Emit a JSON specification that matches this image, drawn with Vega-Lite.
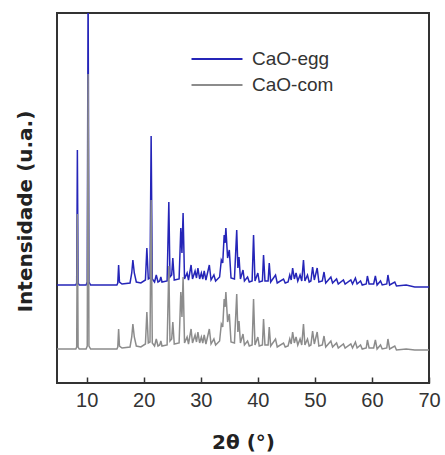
{
  "$schema": "https://vega.github.io/schema/vega-lite/v6.json",
  "width": 372,
  "height": 370,
  "autosize": "none",
  "padding": {"left": 57, "top": 13, "right": 16, "bottom": 72},
  "background": "white",
  "config": {
    "view": {"stroke": "#333333", "strokeWidth": 2},
    "font": "Liberation Sans"
  },
  "data": {"values": [
{"s":"CaO-egg","t":4.8,"i":98},{"s":"CaO-egg","t":8.1,"i":98},{"s":"CaO-egg","t":8.25,"i":100},{"s":"CaO-egg","t":8.37,"i":233},{"s":"CaO-egg","t":8.5,"i":100},{"s":"CaO-egg","t":8.7,"i":98},{"s":"CaO-egg","t":9.9,"i":98},{"s":"CaO-egg","t":10.1,"i":101},{"s":"CaO-egg","t":10.25,"i":400},{"s":"CaO-egg","t":10.4,"i":101},{"s":"CaO-egg","t":10.7,"i":98},{"s":"CaO-egg","t":15.3,"i":98},{"s":"CaO-egg","t":15.45,"i":100},{"s":"CaO-egg","t":15.6,"i":118},{"s":"CaO-egg","t":15.75,"i":101},{"s":"CaO-egg","t":16.2,"i":99},{"s":"CaO-egg","t":17.6,"i":100},{"s":"CaO-egg","t":17.9,"i":110},{"s":"CaO-egg","t":18.1,"i":123},{"s":"CaO-egg","t":18.35,"i":110},{"s":"CaO-egg","t":18.7,"i":101},{"s":"CaO-egg","t":19.5,"i":100},{"s":"CaO-egg","t":20.3,"i":103},{"s":"CaO-egg","t":20.55,"i":135},{"s":"CaO-egg","t":20.8,"i":104},{"s":"CaO-egg","t":21.1,"i":105},{"s":"CaO-egg","t":21.3,"i":247},{"s":"CaO-egg","t":21.5,"i":104},{"s":"CaO-egg","t":21.9,"i":101},{"s":"CaO-egg","t":22.2,"i":108},{"s":"CaO-egg","t":22.5,"i":101},{"s":"CaO-egg","t":22.8,"i":102},{"s":"CaO-egg","t":23.0,"i":106},{"s":"CaO-egg","t":23.2,"i":101},{"s":"CaO-egg","t":24.1,"i":102},{"s":"CaO-egg","t":24.4,"i":181},{"s":"CaO-egg","t":24.6,"i":106},{"s":"CaO-egg","t":24.9,"i":108},{"s":"CaO-egg","t":25.1,"i":125},{"s":"CaO-egg","t":25.35,"i":103},{"s":"CaO-egg","t":26.2,"i":104},{"s":"CaO-egg","t":26.5,"i":155},{"s":"CaO-egg","t":26.7,"i":130},{"s":"CaO-egg","t":26.9,"i":170},{"s":"CaO-egg","t":27.15,"i":104},{"s":"CaO-egg","t":27.6,"i":110},{"s":"CaO-egg","t":27.85,"i":103},{"s":"CaO-egg","t":28.3,"i":118},{"s":"CaO-egg","t":28.55,"i":104},{"s":"CaO-egg","t":29.0,"i":112},{"s":"CaO-egg","t":29.25,"i":105},{"s":"CaO-egg","t":29.5,"i":115},{"s":"CaO-egg","t":29.8,"i":104},{"s":"CaO-egg","t":30.1,"i":110},{"s":"CaO-egg","t":30.35,"i":104},{"s":"CaO-egg","t":30.6,"i":112},{"s":"CaO-egg","t":30.9,"i":103},{"s":"CaO-egg","t":31.5,"i":118},{"s":"CaO-egg","t":31.8,"i":103},{"s":"CaO-egg","t":32.3,"i":108},{"s":"CaO-egg","t":32.6,"i":102},{"s":"CaO-egg","t":33.3,"i":106},{"s":"CaO-egg","t":33.6,"i":123},{"s":"CaO-egg","t":33.85,"i":120},{"s":"CaO-egg","t":34.1,"i":148},{"s":"CaO-egg","t":34.25,"i":140},{"s":"CaO-egg","t":34.4,"i":155},{"s":"CaO-egg","t":34.7,"i":125},{"s":"CaO-egg","t":35.0,"i":133},{"s":"CaO-egg","t":35.3,"i":105},{"s":"CaO-egg","t":35.9,"i":104},{"s":"CaO-egg","t":36.3,"i":153},{"s":"CaO-egg","t":36.5,"i":115},{"s":"CaO-egg","t":36.7,"i":126},{"s":"CaO-egg","t":36.95,"i":104},{"s":"CaO-egg","t":37.4,"i":113},{"s":"CaO-egg","t":37.65,"i":102},{"s":"CaO-egg","t":38.2,"i":106},{"s":"CaO-egg","t":38.5,"i":101},{"s":"CaO-egg","t":39.0,"i":102},{"s":"CaO-egg","t":39.25,"i":148},{"s":"CaO-egg","t":39.5,"i":102},{"s":"CaO-egg","t":40.0,"i":110},{"s":"CaO-egg","t":40.25,"i":101},{"s":"CaO-egg","t":40.8,"i":102},{"s":"CaO-egg","t":41.0,"i":128},{"s":"CaO-egg","t":41.25,"i":102},{"s":"CaO-egg","t":41.8,"i":102},{"s":"CaO-egg","t":42.0,"i":120},{"s":"CaO-egg","t":42.25,"i":101},{"s":"CaO-egg","t":43.1,"i":108},{"s":"CaO-egg","t":43.4,"i":100},{"s":"CaO-egg","t":44.5,"i":104},{"s":"CaO-egg","t":44.8,"i":100},{"s":"CaO-egg","t":45.3,"i":101},{"s":"CaO-egg","t":45.6,"i":108},{"s":"CaO-egg","t":45.85,"i":103},{"s":"CaO-egg","t":46.1,"i":115},{"s":"CaO-egg","t":46.4,"i":104},{"s":"CaO-egg","t":46.7,"i":110},{"s":"CaO-egg","t":47.0,"i":102},{"s":"CaO-egg","t":47.4,"i":108},{"s":"CaO-egg","t":47.7,"i":102},{"s":"CaO-egg","t":48.0,"i":123},{"s":"CaO-egg","t":48.25,"i":102},{"s":"CaO-egg","t":48.7,"i":108},{"s":"CaO-egg","t":49.0,"i":101},{"s":"CaO-egg","t":49.3,"i":102},{"s":"CaO-egg","t":49.6,"i":116},{"s":"CaO-egg","t":49.9,"i":103},{"s":"CaO-egg","t":50.4,"i":115},{"s":"CaO-egg","t":50.7,"i":101},{"s":"CaO-egg","t":51.3,"i":102},{"s":"CaO-egg","t":51.6,"i":111},{"s":"CaO-egg","t":51.9,"i":100},{"s":"CaO-egg","t":52.8,"i":106},{"s":"CaO-egg","t":53.1,"i":100},{"s":"CaO-egg","t":53.8,"i":104},{"s":"CaO-egg","t":54.1,"i":99},{"s":"CaO-egg","t":55.0,"i":103},{"s":"CaO-egg","t":55.3,"i":99},{"s":"CaO-egg","t":56.3,"i":103},{"s":"CaO-egg","t":56.6,"i":99},{"s":"CaO-egg","t":57.1,"i":105},{"s":"CaO-egg","t":57.4,"i":99},{"s":"CaO-egg","t":58.0,"i":102},{"s":"CaO-egg","t":58.3,"i":98},{"s":"CaO-egg","t":59.0,"i":99},{"s":"CaO-egg","t":59.2,"i":107},{"s":"CaO-egg","t":59.5,"i":99},{"s":"CaO-egg","t":60.3,"i":99},{"s":"CaO-egg","t":60.6,"i":107},{"s":"CaO-egg","t":60.9,"i":98},{"s":"CaO-egg","t":61.5,"i":102},{"s":"CaO-egg","t":61.8,"i":98},{"s":"CaO-egg","t":62.6,"i":99},{"s":"CaO-egg","t":62.8,"i":108},{"s":"CaO-egg","t":63.1,"i":98},{"s":"CaO-egg","t":64.0,"i":101},{"s":"CaO-egg","t":64.3,"i":97},{"s":"CaO-egg","t":66.0,"i":98},{"s":"CaO-egg","t":67.5,"i":96},{"s":"CaO-egg","t":70,"i":96},
{"s":"CaO-com","t":4.8,"i":34},{"s":"CaO-com","t":8.1,"i":34},{"s":"CaO-com","t":8.25,"i":36},{"s":"CaO-com","t":8.37,"i":169},{"s":"CaO-com","t":8.5,"i":36},{"s":"CaO-com","t":8.7,"i":34},{"s":"CaO-com","t":9.9,"i":34},{"s":"CaO-com","t":10.1,"i":37},{"s":"CaO-com","t":10.25,"i":309},{"s":"CaO-com","t":10.4,"i":37},{"s":"CaO-com","t":10.7,"i":34},{"s":"CaO-com","t":15.3,"i":34},{"s":"CaO-com","t":15.45,"i":36},{"s":"CaO-com","t":15.6,"i":54},{"s":"CaO-com","t":15.75,"i":37},{"s":"CaO-com","t":16.2,"i":35},{"s":"CaO-com","t":17.6,"i":36},{"s":"CaO-com","t":17.9,"i":46},{"s":"CaO-com","t":18.1,"i":59},{"s":"CaO-com","t":18.35,"i":46},{"s":"CaO-com","t":18.7,"i":37},{"s":"CaO-com","t":19.5,"i":36},{"s":"CaO-com","t":20.3,"i":39},{"s":"CaO-com","t":20.55,"i":71},{"s":"CaO-com","t":20.8,"i":40},{"s":"CaO-com","t":21.1,"i":41},{"s":"CaO-com","t":21.3,"i":183},{"s":"CaO-com","t":21.5,"i":40},{"s":"CaO-com","t":21.9,"i":37},{"s":"CaO-com","t":22.2,"i":44},{"s":"CaO-com","t":22.5,"i":37},{"s":"CaO-com","t":22.8,"i":38},{"s":"CaO-com","t":23.0,"i":42},{"s":"CaO-com","t":23.2,"i":37},{"s":"CaO-com","t":24.1,"i":38},{"s":"CaO-com","t":24.4,"i":117},{"s":"CaO-com","t":24.6,"i":42},{"s":"CaO-com","t":24.9,"i":44},{"s":"CaO-com","t":25.1,"i":61},{"s":"CaO-com","t":25.35,"i":39},{"s":"CaO-com","t":26.2,"i":40},{"s":"CaO-com","t":26.5,"i":91},{"s":"CaO-com","t":26.7,"i":66},{"s":"CaO-com","t":26.9,"i":106},{"s":"CaO-com","t":27.15,"i":40},{"s":"CaO-com","t":27.6,"i":46},{"s":"CaO-com","t":27.85,"i":39},{"s":"CaO-com","t":28.3,"i":54},{"s":"CaO-com","t":28.55,"i":40},{"s":"CaO-com","t":29.0,"i":48},{"s":"CaO-com","t":29.25,"i":41},{"s":"CaO-com","t":29.5,"i":51},{"s":"CaO-com","t":29.8,"i":40},{"s":"CaO-com","t":30.1,"i":46},{"s":"CaO-com","t":30.35,"i":40},{"s":"CaO-com","t":30.6,"i":48},{"s":"CaO-com","t":30.9,"i":39},{"s":"CaO-com","t":31.5,"i":54},{"s":"CaO-com","t":31.8,"i":39},{"s":"CaO-com","t":32.3,"i":44},{"s":"CaO-com","t":32.6,"i":38},{"s":"CaO-com","t":33.3,"i":42},{"s":"CaO-com","t":33.6,"i":59},{"s":"CaO-com","t":33.85,"i":56},{"s":"CaO-com","t":34.1,"i":84},{"s":"CaO-com","t":34.25,"i":76},{"s":"CaO-com","t":34.4,"i":91},{"s":"CaO-com","t":34.7,"i":61},{"s":"CaO-com","t":35.0,"i":69},{"s":"CaO-com","t":35.3,"i":41},{"s":"CaO-com","t":35.9,"i":40},{"s":"CaO-com","t":36.3,"i":89},{"s":"CaO-com","t":36.5,"i":51},{"s":"CaO-com","t":36.7,"i":62},{"s":"CaO-com","t":36.95,"i":40},{"s":"CaO-com","t":37.4,"i":49},{"s":"CaO-com","t":37.65,"i":38},{"s":"CaO-com","t":38.2,"i":42},{"s":"CaO-com","t":38.5,"i":37},{"s":"CaO-com","t":39.0,"i":38},{"s":"CaO-com","t":39.25,"i":84},{"s":"CaO-com","t":39.5,"i":38},{"s":"CaO-com","t":40.0,"i":46},{"s":"CaO-com","t":40.25,"i":37},{"s":"CaO-com","t":40.8,"i":38},{"s":"CaO-com","t":41.0,"i":64},{"s":"CaO-com","t":41.25,"i":38},{"s":"CaO-com","t":41.8,"i":38},{"s":"CaO-com","t":42.0,"i":56},{"s":"CaO-com","t":42.25,"i":37},{"s":"CaO-com","t":43.1,"i":44},{"s":"CaO-com","t":43.4,"i":36},{"s":"CaO-com","t":44.5,"i":40},{"s":"CaO-com","t":44.8,"i":36},{"s":"CaO-com","t":45.3,"i":37},{"s":"CaO-com","t":45.6,"i":44},{"s":"CaO-com","t":45.85,"i":39},{"s":"CaO-com","t":46.1,"i":51},{"s":"CaO-com","t":46.4,"i":40},{"s":"CaO-com","t":46.7,"i":46},{"s":"CaO-com","t":47.0,"i":38},{"s":"CaO-com","t":47.4,"i":44},{"s":"CaO-com","t":47.7,"i":38},{"s":"CaO-com","t":48.0,"i":59},{"s":"CaO-com","t":48.25,"i":38},{"s":"CaO-com","t":48.7,"i":44},{"s":"CaO-com","t":49.0,"i":37},{"s":"CaO-com","t":49.3,"i":38},{"s":"CaO-com","t":49.6,"i":52},{"s":"CaO-com","t":49.9,"i":39},{"s":"CaO-com","t":50.4,"i":51},{"s":"CaO-com","t":50.7,"i":37},{"s":"CaO-com","t":51.3,"i":38},{"s":"CaO-com","t":51.6,"i":47},{"s":"CaO-com","t":51.9,"i":36},{"s":"CaO-com","t":52.8,"i":42},{"s":"CaO-com","t":53.1,"i":36},{"s":"CaO-com","t":53.8,"i":40},{"s":"CaO-com","t":54.1,"i":35},{"s":"CaO-com","t":55.0,"i":39},{"s":"CaO-com","t":55.3,"i":35},{"s":"CaO-com","t":56.3,"i":39},{"s":"CaO-com","t":56.6,"i":35},{"s":"CaO-com","t":57.1,"i":41},{"s":"CaO-com","t":57.4,"i":35},{"s":"CaO-com","t":58.0,"i":38},{"s":"CaO-com","t":58.3,"i":34},{"s":"CaO-com","t":59.0,"i":35},{"s":"CaO-com","t":59.2,"i":43},{"s":"CaO-com","t":59.5,"i":35},{"s":"CaO-com","t":60.3,"i":35},{"s":"CaO-com","t":60.6,"i":43},{"s":"CaO-com","t":60.9,"i":34},{"s":"CaO-com","t":61.5,"i":38},{"s":"CaO-com","t":61.8,"i":34},{"s":"CaO-com","t":62.6,"i":35},{"s":"CaO-com","t":62.8,"i":44},{"s":"CaO-com","t":63.1,"i":34},{"s":"CaO-com","t":64.0,"i":37},{"s":"CaO-com","t":64.3,"i":33},{"s":"CaO-com","t":66.0,"i":34},{"s":"CaO-com","t":67.5,"i":33},{"s":"CaO-com","t":70,"i":33}
  ]},
  "encoding": {
    "x": {
      "field": "t", "type": "quantitative",
      "scale": {"domain": [4.8, 70], "nice": false, "zero": false},
      "axis": {
        "title": "2θ (°)",
        "values": [10, 20, 30, 40, 50, 60, 70],
        "grid": false, "domain": false, "labelFlush": false,
        "tickSize": -6, "tickColor": "#333333", "tickWidth": 1.5,
        "labelFontSize": 20, "labelColor": "#333333", "labelPadding": 13,
        "labelFont": "Liberation Sans",
        "titleFontSize": 20, "titleFont": "DejaVu Sans", "titleFontWeight": "bold",
        "titleColor": "#222222", "titlePadding": 22
      }
    },
    "y": {
      "field": "i", "type": "quantitative",
      "scale": {"domain": [0, 370], "nice": false},
      "axis": {
        "title": "Intensidade (u.a.)",
        "ticks": false, "labels": false, "domain": false, "grid": false,
        "titleFontSize": 20, "titleFont": "DejaVu Sans", "titleFontWeight": "bold",
        "titleColor": "#222222", "titlePadding": 22, "titleY": 198
      }
    },
    "color": {
      "field": "s", "type": "nominal",
      "scale": {"domain": ["CaO-egg", "CaO-com"], "range": ["#2525b8", "#8c8c8c"]},
      "legend": {
        "title": null, "orient": "none", "legendX": 146, "legendY": 32,
        "symbolType": "M-2,0H2", "symbolSize": 650, "symbolStrokeWidth": 2,
        "symbolFillColor": "transparent",
        "labelFontSize": 19, "labelColor": "#333333", "labelFont": "Liberation Sans",
        "labelOffset": 21, "rowPadding": 2
      }
    }
  },
  "layer": [
    {
      "transform": [{"filter": "datum.s === 'CaO-egg'"}],
      "mark": {"type": "line", "strokeWidth": 1.5, "clip": true}
    },
    {
      "transform": [{"filter": "datum.s === 'CaO-com'"}],
      "mark": {"type": "line", "strokeWidth": 1.5, "clip": true}
    }
  ]
}
